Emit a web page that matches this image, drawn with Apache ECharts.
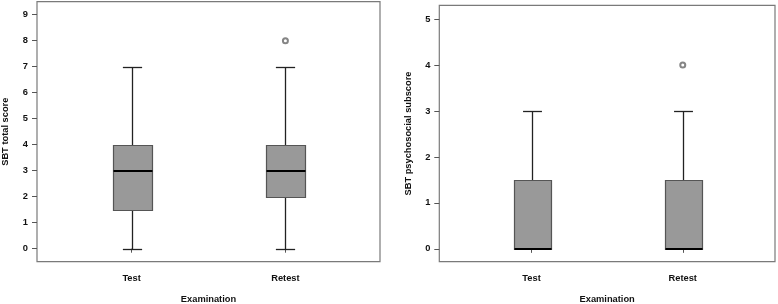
<!DOCTYPE html>
<html>
<head>
<meta charset="utf-8">
<script src="https://cdn.jsdelivr.net/npm/echarts@6/dist/echarts.min.js"></script>
<style>
html,body{margin:0;padding:0;background:#fff;}
#chart{width:778px;height:304px;}
</style>
</head>
<body>
<div id="chart"></div>
<script>
// ---- data ----
const categories = ['Test', 'Retest'];
// [min, Q1, median, Q3, max]
const totalTest = [0, 1.5, 3, 4, 7];
const totalRetest = [0, 2, 3, 4, 7];
const totalOutliers = [[1, 8]];          // [category index, value]
const psychTest = [0, 0, 0, 1.5, 3];
const psychRetest = [0, 0, 0, 1.5, 3];
const psychOutliers = [[1, 4]];
const totalTicks = [0, 1, 2, 3, 4, 5, 6, 7, 8, 9];
const psychTicks = [0, 1, 2, 3, 4, 5];
const xTitle = 'Examination';
const totalTitle = 'SBT total score';
const psychTitle = 'SBT psychosocial subscore';

// ---- chart ----
const FONT = "'Liberation Sans', Arial, sans-serif";
const FS = 9.3;
const txt = {color: '#111', fontFamily: FONT, fontSize: FS, fontWeight: 'bold'};

function boxData(list) {
  return list.map((s, i) => [i + 1].concat(s));
}
function outData(list) {
  return list.map(o => [o[0] + 1, o[1]]);
}

function renderBox(params, api) {
  const x = api.value(0);
  const mn = api.value(1), q1 = api.value(2), md = api.value(3), q3 = api.value(4), mx = api.value(5);
  const c = api.coord([x, md]);
  const cx = Math.round(c[0]) + 0.5;
  const w = api.size([0.25, 0])[0];
  const cw = w / 2;
  const yMin = Math.round(api.coord([x, mn])[1]) + 0.5;
  const yQ1 = Math.round(api.coord([x, q1])[1]) + 0.5;
  const yMd = Math.round(api.coord([x, md])[1]);
  const yQ3 = Math.round(api.coord([x, q3])[1]) + 0.5;
  const yMax = Math.round(api.coord([x, mx])[1]) + 0.5;
  const left = Math.round(cx - w / 2) + 0.5;
  const right = Math.round(cx + w / 2) + 0.5;
  const wl = {stroke: '#222', lineWidth: 1.3};
  const children = [];
  if (mx > q3) {
    children.push({type: 'line', shape: {x1: cx, y1: yMax, x2: cx, y2: yQ3}, style: wl});
    children.push({type: 'line', shape: {x1: cx - cw / 2, y1: yMax, x2: cx + cw / 2, y2: yMax}, style: wl});
  }
  if (mn < q1) {
    children.push({type: 'line', shape: {x1: cx, y1: yMin, x2: cx, y2: yQ1}, style: wl});
    children.push({type: 'line', shape: {x1: cx - cw / 2, y1: yMin, x2: cx + cw / 2, y2: yMin}, style: wl});
  }
  children.push({type: 'rect', shape: {x: left, y: yQ3, width: right - left, height: yQ1 - yQ3},
    style: {fill: '#999999', stroke: '#555555', lineWidth: 1.2}});
  children.push({type: 'line', shape: {x1: left, y1: yMd, x2: right, y2: yMd},
    style: {stroke: '#000', lineWidth: 2}});
  return {type: 'group', children: children};
}

function xAxisCfg(idx, mn, mx) {
  return {
    type: 'value', gridIndex: idx, min: mn, max: mx,
    name: xTitle, nameLocation: 'middle', nameGap: 33, nameTextStyle: txt,
    axisLine: {show: false},
    splitLine: {show: false},
    axisTick: {show: true, customValues: [1, 2], length: 4, lineStyle: {color: '#555', width: 1}},
    axisLabel: Object.assign({customValues: [1, 2], margin: 12,
      formatter: v => categories[Math.round(v) - 1] || ''}, txt)
  };
}
function yAxisCfg(idx, mn, mx, ticks, title, gap) {
  return {
    type: 'value', gridIndex: idx, min: mn, max: mx,
    name: title, nameLocation: 'middle', nameGap: gap, nameRotate: 90, nameTextStyle: txt,
    nameMoveOverlap: false,
    axisLine: {show: false},
    splitLine: {show: false},
    axisTick: {show: true, customValues: ticks, length: 5, lineStyle: {color: '#555', width: 1}},
    axisLabel: Object.assign({customValues: ticks, margin: 9}, txt)
  };
}

const outlierStyle = {color: '#666', borderColor: '#555', borderWidth: 0.9};

const chart = echarts.init(document.getElementById('chart'), null, {renderer: 'canvas'});
chart.setOption({
  animation: false,
  backgroundColor: '#fff',
  grid: [
    {left: 37, top: 1.7, width: 343, height: 260, show: true, borderColor: '#7a7a7a', borderWidth: 1.2,
      backgroundColor: 'transparent', outerBoundsMode: 'none', containLabel: false},
    {left: 439.3, top: 5.3, width: 335.7, height: 256.4, show: true, borderColor: '#7a7a7a', borderWidth: 1.2,
      backgroundColor: 'transparent', outerBoundsMode: 'none', containLabel: false}
  ],
  xAxis: [xAxisCfg(0, 0.385, 2.615), xAxisCfg(1, 0.39, 2.61)],
  yAxis: [yAxisCfg(0, -0.5, 9.5, totalTicks, totalTitle, 27),
          yAxisCfg(1, -0.28, 5.3, psychTicks, psychTitle, 26.5)],
  series: [
    {type: 'custom', xAxisIndex: 0, yAxisIndex: 0, renderItem: renderBox,
      data: boxData([totalTest, totalRetest]), encode: {x: 0, y: [1, 2, 3, 4, 5]}},
    {type: 'scatter', xAxisIndex: 0, yAxisIndex: 0, symbol: 'emptyCircle', symbolSize: 5,
      itemStyle: outlierStyle, data: outData(totalOutliers)},
    {type: 'custom', xAxisIndex: 1, yAxisIndex: 1, renderItem: renderBox,
      data: boxData([psychTest, psychRetest]), encode: {x: 0, y: [1, 2, 3, 4, 5]}},
    {type: 'scatter', xAxisIndex: 1, yAxisIndex: 1, symbol: 'emptyCircle', symbolSize: 5,
      itemStyle: outlierStyle, data: outData(psychOutliers)}
  ]
});
</script>
</body>
</html>
